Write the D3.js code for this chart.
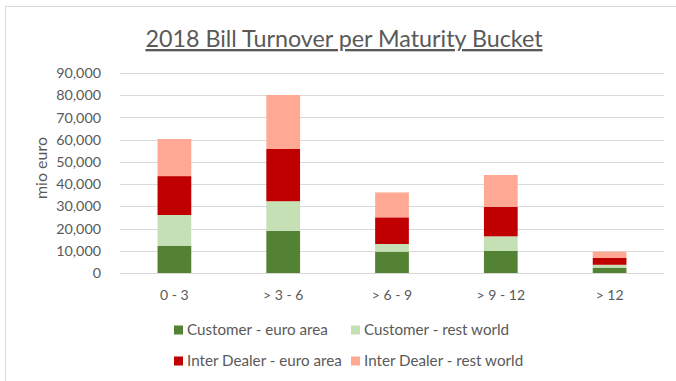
<!DOCTYPE html>
<html>
<head>
<meta charset="utf-8">
<script src="https://cdn.jsdelivr.net/npm/d3@7"></script>
<style>
  html, body { margin: 0; padding: 0; background: #fff; }
  svg { display: block; font-family: Lato, "Open Sans", sans-serif; }
</style>
</head>
<body>
<svg id="chart" width="676" height="381"></svg>
<script>
// Maturity buckets (months)
const categories = ["0 - 3", "> 3 - 6", "> 6 - 9", "> 9 - 12", "> 12"];

// Turnover per segment, mio euro
const customerEuroArea   = [12300, 19000, 9600, 9900, 2400];
const customerRestWorld  = [13800, 13300, 3450, 6600, 1300];
const dealerEuroArea     = [17500, 23500, 12000, 13300, 3050];
const dealerRestWorld    = [16700, 24300, 11200, 14300, 2850];

const seriesNames  = ["Customer - euro area", "Customer - rest world",
                      "Inter Dealer - euro area", "Inter Dealer - rest world"];
const seriesColors = ["#548235", "#C5E0B4", "#C00000", "#FFA995"];

const yTicks = [0, 10000, 20000, 30000, 40000, 50000, 60000, 70000, 80000, 90000];

const svg = d3.select("#chart");

// chart frame
svg.append("path")
  .attr("d", "M5.5,381 V6.5 H676")
  .attr("fill", "none")
  .attr("stroke", "#d9d9d9")
  .attr("stroke-width", 1);

const plotLeft = 120, plotRight = 664;
const plotBottom = 273, plotTop = 73;

const x = d3.scaleBand().domain(categories).range([plotLeft, plotRight]).paddingInner(0.69).paddingOuter(0.345);
const y = d3.scaleLinear().domain([0, 90000]).range([plotBottom, plotTop]);

// gridlines
svg.append("g")
  .selectAll("line")
  .data(yTicks)
  .join("line")
  .attr("x1", plotLeft).attr("x2", plotRight)
  .attr("y1", d => Math.round(y(d)) + 0.5).attr("y2", d => Math.round(y(d)) + 0.5)
  .attr("stroke", "#d9d9d9").attr("stroke-width", 1);

// y axis labels
const yAxis = d3.axisLeft(y).tickValues(yTicks).tickFormat(d3.format(",")).tickSize(0).tickPadding(0);
const gy = svg.append("g").attr("transform", "translate(101,0)").call(yAxis);
gy.select(".domain").remove();
gy.selectAll("text")
  .attr("fill", "#595959")
  .style("font-size", "14.3px")
  .style("font-family", "Lato, sans-serif");

// stacked bars
const rows = categories.map((c, i) => ({
  cat: c,
  s0: customerEuroArea[i], s1: customerRestWorld[i],
  s2: dealerEuroArea[i], s3: dealerRestWorld[i]
}));
const stack = d3.stack().keys(["s0", "s1", "s2", "s3"]);
const layers = stack(rows);

svg.append("g")
  .selectAll("g")
  .data(layers)
  .join("g")
  .attr("fill", (d, i) => seriesColors[i])
  .selectAll("rect")
  .data(d => d)
  .join("rect")
  .attr("x", d => x(d.data.cat))
  .attr("width", x.bandwidth())
  .attr("y", d => y(d[1]))
  .attr("height", d => y(d[0]) - y(d[1]));

// x axis
const xAxis = d3.axisBottom(x).tickSize(0).tickPadding(0);
const gx = svg.append("g").attr("transform", "translate(0,295)").call(xAxis);
gx.select(".domain").remove();
gx.selectAll("text")
  .attr("fill", "#595959")
  .attr("dy", "0.35em")
  .style("font-size", "14px")
  .style("font-family", "Lato, sans-serif");

// y axis title
svg.append("text")
  .attr("transform", "translate(47,168) rotate(-90)")
  .attr("text-anchor", "middle")
  .attr("fill", "#595959")
  .style("font-size", "16px")
  .text("mio euro");

// title
svg.append("text")
  .attr("x", 344)
  .attr("y", 47)
  .attr("text-anchor", "middle")
  .attr("fill", "#595959")
  .style("font-size", "23.3px")
  .style("text-decoration", "underline")
  .text("2018 Bill Turnover per Maturity Bucket");

// legend
const legendPos = [[174, 330], [351, 330], [174, 361], [351, 361]];
const lg = svg.append("g")
  .selectAll("g")
  .data(seriesNames)
  .join("g")
  .attr("transform", (d, i) => `translate(${legendPos[i][0]},${legendPos[i][1]})`);
lg.append("rect")
  .attr("x", 0).attr("y", -4.5).attr("width", 9).attr("height", 9)
  .attr("fill", (d, i) => seriesColors[i]);
lg.append("text")
  .attr("x", 13).attr("y", 0).attr("dy", "0.35em")
  .attr("fill", "#595959")
  .style("font-size", "15.2px")
  .text(d => d);
</script>
</body>
</html>
